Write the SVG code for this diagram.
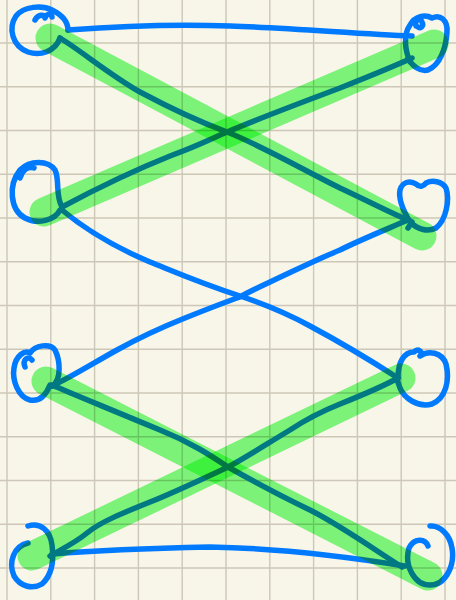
<svg xmlns="http://www.w3.org/2000/svg" width="456" height="600" viewBox="0 0 456 600">
<defs>
<style>
.grid{stroke:#cdc7b7;stroke-width:1.4;fill:none}
.ink{stroke:#007aff;stroke-width:5.5;fill:none;stroke-linecap:round;stroke-linejoin:round}
.hl{stroke:#7ffd83;stroke-width:29;fill:none;stroke-linecap:round;mix-blend-mode:multiply}
</style>
</defs>
<rect width="456" height="600" fill="#f8f5e9"/>
<g id="grid">
<path class="grid" d="M7,0V600M50.8,0V600M94.6,0V600M138.4,0V600M182.2,0V600M226,0V600M269.8,0V600M313.6,0V600M357.4,0V600M401.2,0V600M445,0V600"/>
<path class="grid" d="M0,43H456M0,86.75H456M0,130.5H456M0,174.25H456M0,218H456M0,261.75H456M0,305.5H456M0,349.25H456M0,393H456M0,436.75H456M0,480.5H456M0,524.25H456M0,568H456"/>
</g>
<g id="loop-top-left">
<path class="ink" d="M60,38 C55,52 40,56 28,52 C12,46 8,28 16,16 C24,6 42,5 52,10 C62,15 68,22 68,30"/>
<path class="ink" d="M35,20 C38,14 44,14 45,18 C47,13 52,13 52,17"/>
</g>
<g id="loop-top-right">
<path class="ink" d="M410,62 C405,50 403,35 410,25 C415,16 425,14 432,18 C440,14 448,20 447,32 C446,48 440,65 428,70 C420,72 412,66 408,58"/>
<path class="ink" d="M416,26 C414,20 420,17 422,22 C424,26 421,29 418,27"/>
</g>
<g id="loop-left-2">
<path class="ink" d="M62,207 C55,195 60,180 55,170 C48,160 30,160 20,170 C8,185 10,210 25,218 C38,225 55,220 60,210"/>
<path class="ink" d="M20,178 C22,170 28,166 34,168"/>
</g>
<g id="loop-right-2">
<path class="ink" d="M410,222 C404,212 398,200 400,190 C402,182 410,180 416,184 C420,188 424,186 426,183 C432,180 442,181 446,188 C450,200 446,220 436,228 C428,232 418,230 410,222"/>
<path class="ink" d="M404,218 L412,222 L408,228"/>
</g>
<g id="loop-left-3">
<path class="ink" d="M50,385 C46,395 40,402 30,400 C18,397 12,380 14,368 C16,355 25,350 30,353 C35,345 50,343 55,350 C60,360 62,380 52,386"/>
<path class="ink" d="M25,367 C22,360 28,355 32,360"/>
</g>
<g id="loop-right-3">
<path class="ink" d="M398,378 C398,362 404,352 414,352 C418,348 424,352 420,356 C428,350 442,352 446,364 C450,380 446,398 432,404 C418,408 404,398 400,388 C398,382 396,378 398,378"/>
</g>
<g id="loop-bottom-left">
<path class="ink" d="M28,526 C40,522 50,530 52,545 C54,560 52,575 42,584 C32,590 20,586 14,576 C8,562 14,546 28,543"/>
</g>
<g id="loop-bottom-right">
<path class="ink" d="M428,546 C425,538 414,538 409,548 C404,565 414,585 430,585 C446,585 455,565 452,548 C450,535 440,525 430,526"/>
</g>
<g id="connectors">
<path class="ink" d="M68,30 C120,26 180,24 230,26 C290,28 360,34 412,36"/>
<path class="ink" d="M60,38 C80,50 110,75 140,92 C170,108 200,122 227,132 C260,145 300,168 340,188 C370,202 395,215 408,220"/>
<path class="ink" d="M62,207 C90,192 130,172 170,156 C200,145 215,137 227,132 C260,118 300,103 340,88 C370,76 395,66 412,58"/>
<path class="ink" d="M62,210 C80,225 110,245 150,262 C175,272 200,283 240,296 C270,306 290,315 310,326 C340,342 370,360 398,378"/>
<path class="ink" d="M408,220 C380,232 360,240 340,250 C320,258 300,268 270,282 C255,289 245,294 240,297 C220,304 200,312 185,318 C160,328 135,340 117,350 C95,362 75,375 52,386"/>
<path class="ink" d="M52,385 C70,393 100,405 160,430 C190,442 210,455 228,467 C260,485 285,498 310,510 C340,525 375,550 402,567"/>
<path class="ink" d="M398,378 C380,388 360,396 340,404 C320,412 305,420 290,430 C265,445 245,458 228,467 C200,480 175,492 150,502 C125,512 100,522 87,533 C75,543 60,550 50,556"/>
<path class="ink" d="M52,554 C100,550 160,548 210,547 C270,548 330,554 405,566"/>
</g>
<g id="highlights">
<path class="hl" d="M50,38 L422,236"/>
<path class="hl" d="M434,44 L44,212"/>
<path class="hl" d="M46,381 L428,576"/>
<path class="hl" d="M32,556 L401,378"/>
</g>
</svg>
